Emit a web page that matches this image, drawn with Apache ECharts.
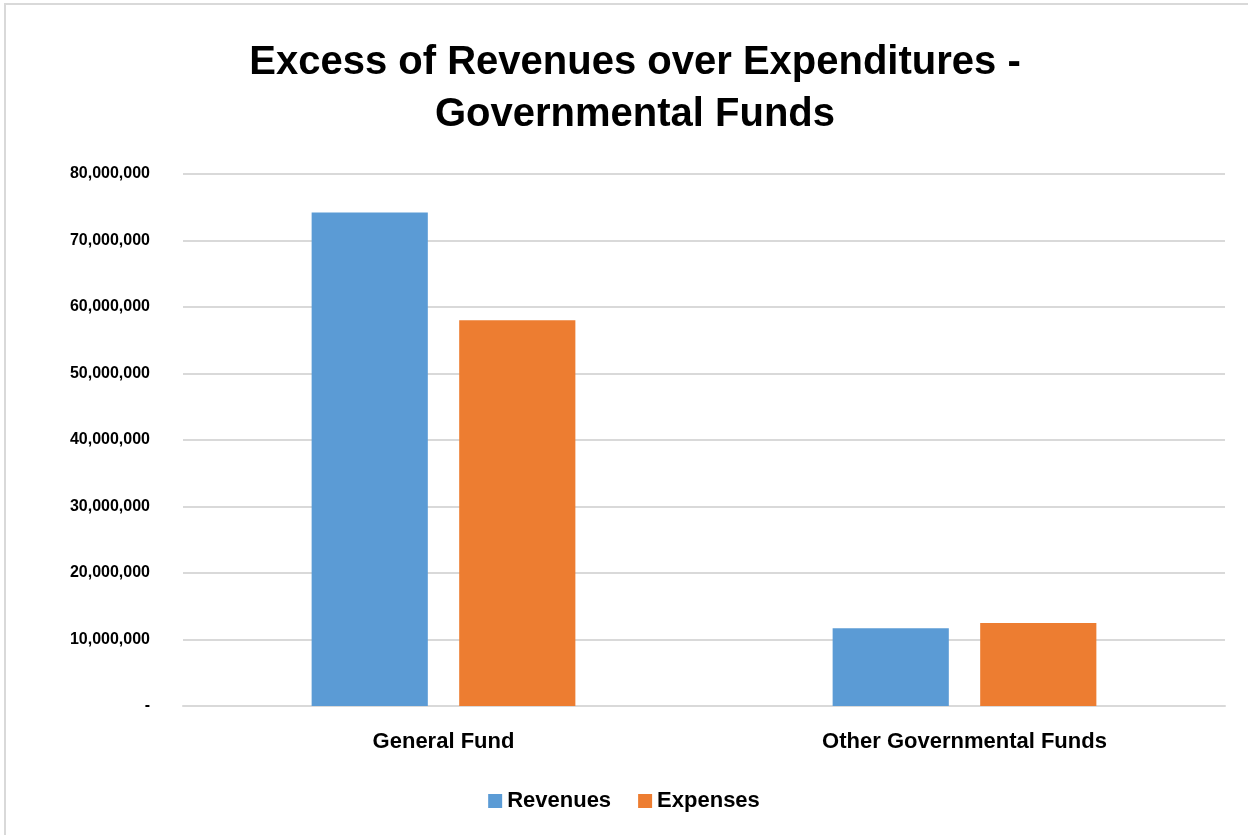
<!DOCTYPE html>
<html>
<head>
<meta charset="utf-8">
<style>
  html, body { margin: 0; padding: 0; background: #ffffff; }
  #chart { width: 1248px; height: 835px; }
</style>
<script src="https://cdn.jsdelivr.net/npm/echarts@6/dist/echarts.min.js"></script>
</head>
<body>
<div id="chart"></div>
<script>
// Fund categories and their totals
const categories = ['General Fund', 'Other Governmental Funds'];
const revenues = [74200000, 11700000];
const expenses = [58000000, 12500000];
const seriesNames = ['Revenues', 'Expenses'];

const FONT = '"Liberation Sans", Arial, sans-serif';

const chart = echarts.init(document.getElementById('chart'), null, { renderer: 'canvas' });

chart.setOption({
  animation: false,
  backgroundColor: '#ffffff',
  title: {
    text: 'Excess of Revenues over Expenditures -\nGovernmental Funds',
    left: 630,
    top: 32,
    textAlign: 'center',
    textStyle: {
      fontFamily: FONT,
      fontWeight: 'bold',
      fontSize: 40,
      lineHeight: 52,
      color: '#000000'
    }
  },
  legend: {
    data: seriesNames,
    top: 785,
    left: 'center',
    itemWidth: 14,
    itemHeight: 14,
    itemGap: 27,
    icon: 'rect',
    textStyle: {
      fontFamily: FONT,
      fontWeight: 'bold',
      fontSize: 22,
      color: '#000000'
    }
  },
  grid: {
    left: 183,
    right: 23,
    top: 174,
    bottom: 129
  },
  xAxis: {
    type: 'category',
    data: categories,
    axisLine: { lineStyle: { color: '#d9d9d9', width: 2 } },
    axisTick: { show: false },
    axisLabel: {
      margin: 25,
      fontFamily: FONT,
      fontWeight: 'bold',
      fontSize: 22,
      color: '#000000'
    }
  },
  yAxis: {
    type: 'value',
    min: 0,
    max: 80000000,
    interval: 10000000,
    axisLine: { show: false },
    axisTick: { show: false },
    splitLine: { lineStyle: { color: '#d9d9d9', width: 2 } },
    axisLabel: {
      margin: 33,
      fontFamily: FONT,
      fontWeight: 'bold',
      fontSize: 16,
      color: '#000000',
      formatter: function (v) {
        return v === 0 ? '-' : v.toLocaleString('en-US');
      }
    }
  },
  series: [
    {
      name: seriesNames[0],
      type: 'bar',
      data: revenues,
      barWidth: '22.3%',
      barGap: '27%',
      itemStyle: { color: '#5B9BD5' }
    },
    {
      name: seriesNames[1],
      type: 'bar',
      data: expenses,
      barWidth: '22.3%',
      itemStyle: { color: '#ED7D31' }
    }
  ],
  graphic: [
    {
      type: 'line',
      shape: { x1: 4, y1: 4, x2: 1248, y2: 4 },
      style: { stroke: '#d9d9d9', lineWidth: 2 },
      silent: true
    },
    {
      type: 'line',
      shape: { x1: 5, y1: 4, x2: 5, y2: 835 },
      style: { stroke: '#d9d9d9', lineWidth: 2 },
      silent: true
    }
  ]
});
</script>
</body>
</html>
